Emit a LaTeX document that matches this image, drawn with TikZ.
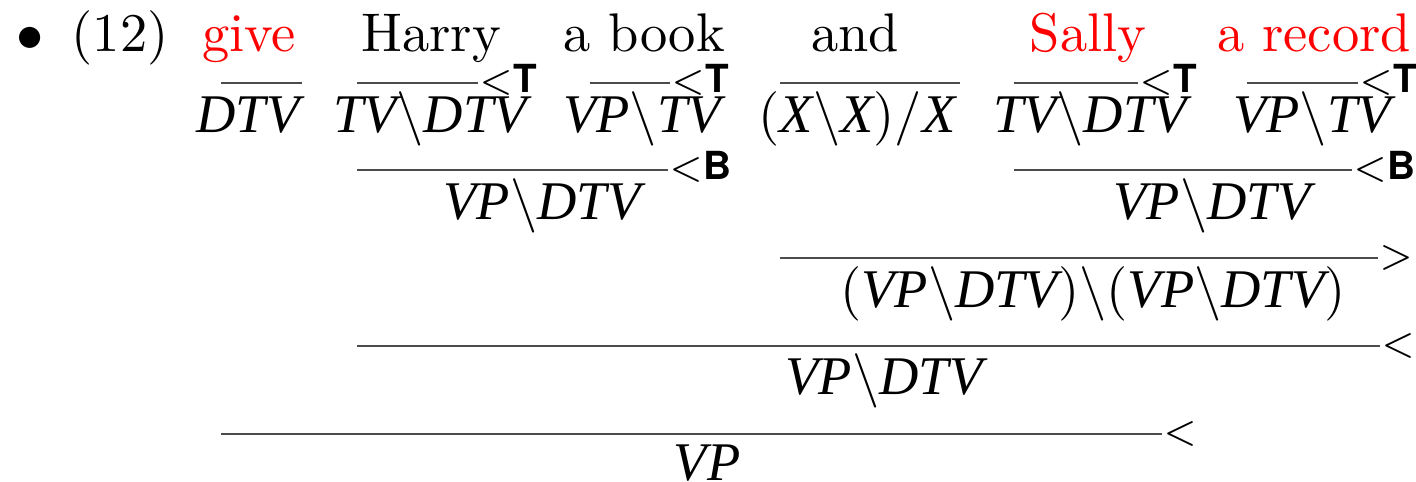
\documentclass[tikz,border=0pt]{standalone}
\usepackage{fontspec}
\usetikzlibrary{calc}
\newfontfamily\heros{TeX Gyre Heros}
\newfontfamily\tms{Liberation Serif}
\newcommand\cati[1]{{\tms\itshape #1}}
\begin{document}
\begin{tikzpicture}[x=0.02cm,y=-0.02cm,
  word/.style={anchor=base,inner sep=0,font=\fontsize{10}{12}\selectfont,scale=3.1,transform shape},
  rulel/.style={line width=1.1pt,black!70},
  lab/.style={anchor=base west,inner sep=0,font=\fontsize{7.1}{8.5}\selectfont,scale=3.1,transform shape}]
\useasboundingbox (0,0) rectangle (1416,482);
% row 1: words
\node[word] (bul) at (30,52) {$\bullet$};
\node[word] (num) at (120,52) {(12)};
\node[word,red] (w1) at (249,52) {give};
\node[word] (w2) at (431,52) {Harry};
\node[word] (w3) at (644,52) {a book};
\node[word] (w4) at (855,52) {and};
\node[word,red] (w5) at (1088,52) {Sally};
\node[word,red] (w6) at (1314,52) {a record};
% row 2 rules
\coordinate (a1) at (221,83); \coordinate (b1) at (302,83);
\coordinate (a2) at (357,83); \coordinate (b2) at (478,83);
\coordinate (a3) at (590,83); \coordinate (b3) at (670,83);
\coordinate (a4) at (780,83); \coordinate (b4) at (960,83);
\coordinate (a5) at (1014,83); \coordinate (b5) at (1138,83);
\coordinate (a6) at (1247,83); \coordinate (b6) at (1358,83);
\foreach \i in {1,...,6}{\draw[rulel] (a\i) -- (b\i);}
\node[lab] (t2) at ($(b2)+(0,10)$) {$<${\heros\bfseries T}};
\node[lab] (t3) at ($(b3)+(0,10)$) {$<${\heros\bfseries T}};
\node[lab] (t5) at ($(b5)+(0,10)$) {$<${\heros\bfseries T}};
\node[lab] (t6) at ($(b6)+(0,10)$) {$<${\heros\bfseries T}};
% row 2 categories
\node[word] (c1) at (248,133) {\cati{DTV}};
\node[word] (c2) at (430,133) {\cati{TV}$\backslash$\cati{DTV}};
\node[word] (c3) at (642,133) {\cati{VP}$\backslash$\cati{TV}};
\node[word] (c4) at (857,133) {$($\cati{X}$\backslash$\cati{X}$)/$\cati{X}};
\node[word] (c5) at (1090,133) {\cati{TV}$\backslash$\cati{DTV}};
\node[word] (c6) at (1312,133) {\cati{VP}$\backslash$\cati{TV}};
% row 3
\coordinate (d1) at (357,170); \coordinate (e1) at (668,170);
\coordinate (d2) at (1014,170); \coordinate (e2) at (1352,170);
\draw[rulel] (d1) -- (e1);
\draw[rulel] (d2) -- (e2);
\node[lab] (bb1) at ($(e1)+(0,10)$) {$<${\heros\bfseries B}};
\node[lab] (bb2) at ($(e2)+(0,10)$) {$<${\heros\bfseries B}};
\node[word] (v1) at (542,220) {\cati{VP}$\backslash$\cati{DTV}};
\node[word] (v2) at (1212,220) {\cati{VP}$\backslash$\cati{DTV}};
% row 4
\coordinate (f1) at (780,258); \coordinate (g1) at (1378,258);
\draw[rulel] (f1) -- (g1);
\node[lab] (gt) at ($(g1)+(0,10)$) {$>$};
\node[word] (m1) at (1093,308) {$($\cati{VP}$\backslash$\cati{DTV}$)\backslash($\cati{VP}$\backslash$\cati{DTV}$)$};
% row 5
\coordinate (h1) at (357,346); \coordinate (k1) at (1380,346);
\draw[rulel] (h1) -- (k1);
\node[lab] (lt1) at ($(k1)+(0,10)$) {$<$};
\node[word] (m2) at (884,395) {\cati{VP}$\backslash$\cati{DTV}};
% row 6
\coordinate (p1) at (221,434); \coordinate (q1) at (1162,434);
\draw[rulel] (p1) -- (q1);
\node[lab] (lt2) at ($(q1)+(0,10)$) {$<$};
\node[word] (m3) at (707,480) {\cati{VP}};
\end{tikzpicture}
\end{document}
